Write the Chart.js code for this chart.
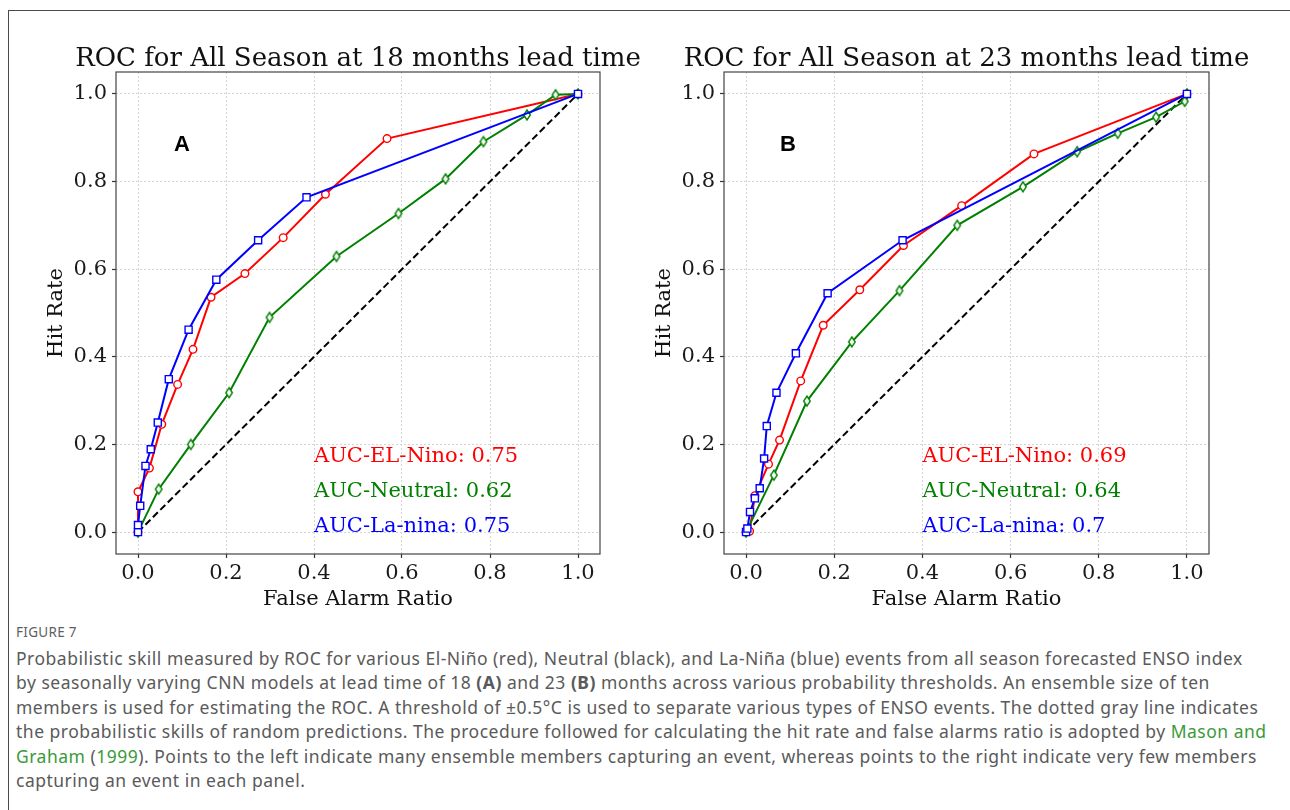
<!DOCTYPE html>
<html>
<head>
<meta charset="utf-8">
<script src="https://cdn.jsdelivr.net/npm/chart.js@4.4.1/dist/chart.umd.min.js"></script>
<style>
  body { margin: 0; background: #fff; width: 1290px; height: 810px; overflow: hidden; position: relative; }
  #frame { position: absolute; left: 8px; top: 10px; width: 1300px; height: 820px;
           border-left: 1.5px solid #4a4a4a; border-top: 1.5px solid #4a4a4a; }
  canvas { position: absolute; top: 0; }
  #c1 { left: 0; }
  #c2 { left: 640px; }
  #figlabel { position: absolute; left: 16px; top: 623px; font: 13.5px "Noto Sans", sans-serif; color: #5f5f5f; letter-spacing: 0.3px; }
  #caption { position: absolute; left: 16px; top: 646px; font: 17.5px "Noto Sans", sans-serif; line-height: 24.4px;
             letter-spacing: 0.5px; color: #5a5a5a; white-space: nowrap; }
  #caption a { color: #3a9a3a; text-decoration: none; }
</style>
</head>
<body>
<div id="frame"></div>
<canvas id="c1" width="645" height="620"></canvas>
<canvas id="c2" width="650" height="620"></canvas>
<div id="figlabel">FIGURE 7</div>
<div id="caption">Probabilistic skill measured by ROC for various El-Niño (red), Neutral (black), and La-Niña (blue) events from all season forecasted ENSO index<br>by seasonally varying CNN models at lead time of 18 <b>(A)</b> and 23 <b>(B)</b> months across various probability thresholds. An ensemble size of ten<br>members is used for estimating the ROC. A threshold of ±0.5°C is used to separate various types of ENSO events. The dotted gray line indicates<br>the probabilistic skills of random predictions. The procedure followed for calculating the hit rate and false alarms ratio is adopted by <a>Mason and</a><br><a>Graham</a> (<a>1999</a>). Points to the left indicate many ensemble members capturing an event, whereas points to the right indicate very few members<br>capturing an event in each panel.</div>
<script>
var tickVals = [0, 0.2, 0.4, 0.6, 0.8, 1.0];
var aucNames = ['AUC-EL-Nino', 'AUC-Neutral', 'AUC-La-nina'];

// panel A: 18 months lead time
var farElninoA = [0, 0.0, 0.026, 0.054, 0.09, 0.125, 0.166, 0.243, 0.33, 0.426, 0.566, 1.0];
var hrElninoA  = [0, 0.092, 0.146, 0.246, 0.337, 0.417, 0.536, 0.59, 0.672, 0.771, 0.898, 1.0];
var farNeutralA = [0, 0.047, 0.12, 0.207, 0.299, 0.451, 0.592, 0.699, 0.785, 0.884, 0.949, 1.0];
var hrNeutralA  = [0, 0.098, 0.2, 0.318, 0.49, 0.629, 0.727, 0.806, 0.891, 0.952, 0.998, 1.0];
var farLaninaA = [0, 0.0, 0.005, 0.017, 0.029, 0.045, 0.07, 0.115, 0.178, 0.273, 0.383, 1.0];
var hrLaninaA  = [0, 0.016, 0.06, 0.151, 0.189, 0.25, 0.349, 0.462, 0.576, 0.666, 0.764, 1.0];
var aucA = [0.75, 0.62, 0.75];

// panel B: 23 months lead time
var farElninoB = [0, 0.008, 0.02, 0.051, 0.076, 0.124, 0.175, 0.258, 0.357, 0.489, 0.653, 1.0];
var hrElninoB  = [0, 0.002, 0.083, 0.155, 0.21, 0.345, 0.472, 0.553, 0.654, 0.745, 0.863, 1.0];
var farNeutralB = [0, 0.063, 0.138, 0.24, 0.348, 0.479, 0.628, 0.751, 0.843, 0.93, 0.995, 1.0];
var hrNeutralB  = [0, 0.13, 0.299, 0.434, 0.551, 0.7, 0.788, 0.868, 0.91, 0.947, 0.983, 1.0];
var farLaninaB = [0, 0.003, 0.009, 0.02, 0.031, 0.041, 0.047, 0.069, 0.113, 0.185, 0.355, 1.0];
var hrLaninaB  = [0, 0.008, 0.046, 0.077, 0.1, 0.168, 0.242, 0.318, 0.408, 0.545, 0.666, 1.0];
var aucB = [0.69, 0.64, 0.7];

// random skill diagonal
var farRandom = [0, 1];
var hrRandom = [0, 1];

var serif = '"DejaVu Serif", serif';

function pts(xs, ys) {
  return xs.map(function (v, i) { return { x: v, y: ys[i] }; });
}

// matplotlib-like thin diamond marker
function thinDiamond(color) {
  var c = document.createElement('canvas');
  c.width = 10; c.height = 14;
  var g = c.getContext('2d');
  g.fillStyle = '#fff'; g.strokeStyle = color; g.lineWidth = 1.4;
  g.beginPath();
  g.moveTo(5, 2); g.lineTo(8.3, 7); g.lineTo(5, 12); g.lineTo(1.7, 7); g.closePath();
  g.fill(); g.stroke();
  return c;
}
var diamond = thinDiamond('#008000');

// frame box, title, panel letter and AUC texts
var decor = {
  id: 'decor',
  afterDraw: function (chart, args, o) {
    var ctx = chart.ctx, a = chart.chartArea, x = chart.scales.x, y = chart.scales.y;
    ctx.save();
    ctx.strokeStyle = '#444';
    ctx.lineWidth = 1.2;
    ctx.strokeRect(a.left, a.top, a.right - a.left, a.bottom - a.top);

    ctx.fillStyle = '#111';
    ctx.textAlign = 'center';
    ctx.textBaseline = 'alphabetic';
    ctx.font = '26px ' + serif;
    ctx.fillText(o.title, (a.left + a.right) / 2, 66);

    ctx.font = 'bold 22px "Liberation Sans", sans-serif';
    ctx.fillStyle = '#000';
    ctx.fillText(o.panel, x.getPixelForValue(o.panelX), y.getPixelForValue(o.panelY));

    ctx.textAlign = 'left';
    ctx.font = '21px ' + serif;
    var colors = ['#ff0000', '#008000', '#0000ff'];
    for (var i = 0; i < 3; i++) {
      ctx.fillStyle = colors[i];
      ctx.fillText(aucNames[i] + ': ' + o.auc[i], x.getPixelForValue(o.textX), y.getPixelForValue(o.textY[i]));
    }
    ctx.restore();
  }
};

function axisOpts(titleText, fitSize, titlePad, isX) {
  var o = {
    type: 'linear',
    min: -0.05,
    max: 1.05,
    afterBuildTicks: function (s) { s.ticks = tickVals.map(function (v) { return { value: v }; }); },
    ticks: {
      callback: function (v) { return v.toFixed(1); },
      font: { family: serif, size: 21 },
      color: '#1a1a1a',
      padding: isX ? 3 : 5,
      maxRotation: 0,
      autoSkip: false
    },
    grid: { color: '#d4d4d4', lineWidth: 1, tickLength: 4, tickColor: '#333', tickWidth: 1.2, tickBorderDash: [] },
    border: { display: false, dash: [2, 2] },
    title: { display: true, text: titleText, font: { family: serif, size: 21 }, color: '#111', padding: titlePad }
  };
  if (isX) o.afterFit = function (s) { s.height = fitSize; };
  else o.afterFit = function (s) { s.width = fitSize; };
  return o;
}

function makeChart(id, d, opts) {
  var ds = [
    { label: 'El-Nino', data: pts(d.farE, d.hrE), borderColor: '#ff0000', pointStyle: 'circle', pointRadius: 3.8, order: 3 },
    { label: 'Neutral', data: pts(d.farN, d.hrN), borderColor: '#008000', pointStyle: diamond, pointRadius: 5, order: 2 },
    { label: 'La-nina', data: pts(d.farL, d.hrL), borderColor: '#0000ff', pointStyle: 'rect', pointRadius: 5, order: 1 },
    { label: 'Random', data: pts(farRandom, hrRandom), borderColor: '#000', borderDash: [7, 3.5], pointRadius: 0, order: 4 }
  ];
  ds.forEach(function (s) {
    s.showLine = true;
    s.borderWidth = 2;
    s.backgroundColor = '#ffffff';
    s.pointBackgroundColor = '#ffffff';
    s.pointBorderColor = s.borderColor;
    s.pointBorderWidth = 1.4;
    s.tension = 0;
  });
  return new Chart(document.getElementById(id), {
    type: 'scatter',
    data: { datasets: ds },
    options: {
      responsive: false,
      animation: false,
      layout: { padding: { left: 0, top: 72, right: opts.padRight, bottom: 0 } },
      plugins: { legend: { display: false }, tooltip: { enabled: false }, decor: opts.decor },
      scales: {
        x: axisOpts('False Alarm Ratio', 66, { top: 0, bottom: 8 }, true),
        y: axisOpts('Hit Rate', opts.yWidth, { top: opts.yTitlePad, bottom: 0 }, false)
      }
    },
    plugins: [decor]
  });
}

makeChart('c1', {
  farE: farElninoA, hrE: hrElninoA, farN: farNeutralA, hrN: hrNeutralA, farL: farLaninaA, hrL: hrLaninaA
}, {
  padRight: 45, yWidth: 116, yTitlePad: 44.4,
  decor: { title: 'ROC for All Season at 18 months lead time', panel: 'A', panelX: 0.1, panelY: 0.87,
           auc: aucA, textX: 0.4, textY: [0.16, 0.08, 0.0] }
});

makeChart('c2', {
  farE: farElninoB, hrE: hrElninoB, farN: farNeutralB, hrN: hrNeutralB, farL: farLaninaB, hrL: hrLaninaB
}, {
  padRight: 81, yWidth: 84, yTitlePad: 12.4,
  decor: { title: 'ROC for All Season at 23 months lead time', panel: 'B', panelX: 0.095, panelY: 0.87,
           auc: aucB, textX: 0.4, textY: [0.16, 0.08, 0.0] }
});
</script>
</body>
</html>
